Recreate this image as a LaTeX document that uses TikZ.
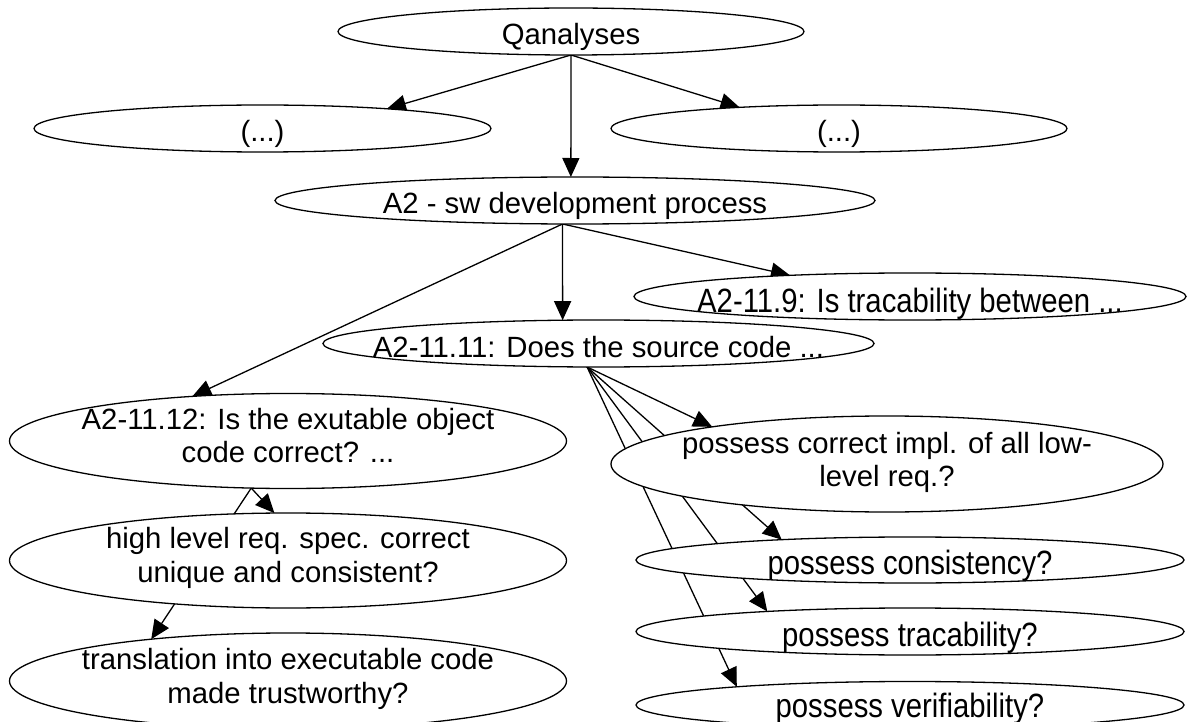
\documentclass[tikz,border=0pt]{standalone}
\usepackage{fontspec}
\usepackage{graphicx}
\setmainfont{Liberation Sans}
\usetikzlibrary{shapes.geometric,arrows.meta,backgrounds}

\tikzset{
  bubble/.style={ellipse, draw, fill=white, line width=1.3pt, inner sep=0pt, outer sep=0pt},
  labeltext/.style={shape=rectangle, draw=none, fill=none, inner sep=0pt, outer sep=0pt,
    minimum width=0pt, minimum height=0pt, anchor=base,
    font=\fontsize{29.3}{33}\selectfont},
  % one line of text, baseline shifted by #2 from the centre (clipped to the ellipse)
  oneline/.style 2 args={path picture={
      \node[labeltext] at ([yshift=#2]path picture bounding box.center) {#1};}},
  % one line of slightly taller text, clipped by the ellipse
  tallline/.style 2 args={path picture={
      \node[labeltext] at ([yshift=#2]path picture bounding box.center) {\scalebox{1}[1.15]{#1}};}},
  % two lines of text with their own baseline shifts
  twolines/.style n args={4}{path picture={
      \node[labeltext] at ([yshift=#3]path picture bounding box.center) {#1};
      \node[labeltext] at ([yshift=#4]path picture bounding box.center) {#2};}},
  link/.style={line width=1.3pt, -{Triangle[length=19pt,width=17pt]}},
}

\begin{document}
\begin{tikzpicture}[x=1pt, y=-1pt]
  \path[use as bounding box] (0,0) rectangle (1187,722);

  % top level
  \node[bubble, minimum width=466pt, minimum height=47pt, oneline={Qanalyses}{-13.5pt}] (q) at (571,31.5) {};
  \node[bubble, minimum width=457pt, minimum height=47pt, oneline={(...)}{-13.5pt}] (l) at (262.5,128.5) {};
  \node[bubble, minimum width=456pt, minimum height=47pt, oneline={(...)}{-13.5pt}] (r) at (839,128.5) {};
  \node[bubble, minimum width=600pt, minimum height=47pt, oneline={A2 - sw development process}{-13pt}] (a2) at (575,200.5) {};

  % A2 questions
  \node[bubble, minimum width=552pt, minimum height=47pt, tallline={A2-11.9: Is tracability between ...}{-16pt}] (a9) at (910,296.5) {};
  \node[bubble, minimum width=551pt, minimum height=47pt, oneline={A2-11.11: Does the source code ...}{-13.5pt}] (a11) at (598.5,343.5) {};
  \node[bubble, minimum width=557pt, minimum height=95pt, twolines={A2-11.12: Is the exutable object}{code correct? ...}{11.5pt}{-21.5pt}] (a12) at (288,441) {};

  % sub-questions of A2-11.12
  \node[bubble, minimum width=557pt, minimum height=95pt, twolines={high level req. spec. correct}{unique and consistent?}{12pt}{-21.5pt}] (hl) at (288,560.5) {};
  \node[bubble, minimum width=557pt, minimum height=96pt, twolines={translation into executable code}{made trustworthy?}{12pt}{-22pt}] (tr) at (288,681) {};

  % sub-questions of A2-11.11
  \node[bubble, minimum width=552pt, minimum height=96pt, twolines={possess correct impl. of all low-}{level req.?}{11pt}{-22.5pt}] (pc) at (887,464) {};
  \node[bubble, minimum width=548pt, minimum height=46pt, tallline={possess consistency?}{-14pt}] (pcons) at (910,560) {};
  \node[bubble, minimum width=548pt, minimum height=47pt, tallline={possess tracability?}{-14.5pt}] (ptrac) at (910,631.5) {};
  \node[bubble, minimum width=548pt, minimum height=47pt, tallline={possess verifiability?}{-12pt}] (pver) at (910,705) {};

  % connectors run underneath the ellipses
  \begin{scope}[on background layer]
    \fill[white] (0,0) rectangle (1187,722);
    \draw[link] (q.south) -- (l.9);
    \draw[link] (q.south) -- (r.168.4);
    \draw[link] (q.south) -- (a2.100);

    \draw[link] (a2.242) -- (a12.155.6);
    \draw[link] (a2.242) -- (a11.147.1);
    \draw[link] (a2.242) -- (a9.170.1);

    \draw[link] (a11.244) -- (pc.168.1);
    \draw[link] (a11.244) -- (pcons.171.6);
    \draw[link] (a11.244) -- (ptrac.172.7);
    \draw[link] (a11.244) -- (pver.174.1);

    \draw[link] (a12.232) -- (hl.106.4);
    \draw[link] (a12.232) -- (tr.163);
  \end{scope}
\end{tikzpicture}
\end{document}
